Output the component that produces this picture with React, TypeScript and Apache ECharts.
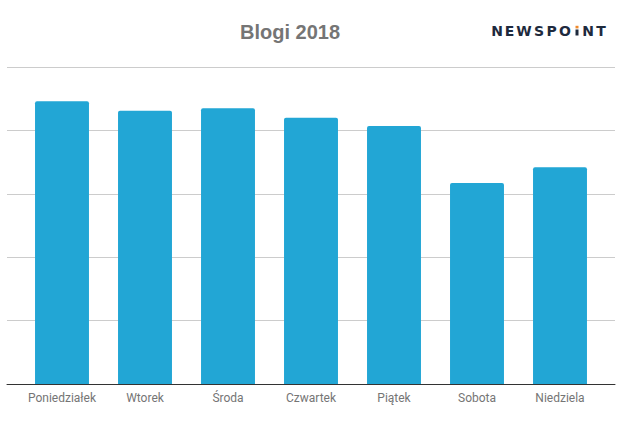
import React, { useEffect, useRef } from "react";
import * as echarts from "echarts";

const categories = ["Poniedziałek", "Wtorek", "Środa", "Czwartek", "Piątek", "Sobota", "Niedziela"];
const values = [4.46, 4.31, 4.35, 4.2, 4.07, 3.17, 3.42];
const titleText = "Blogi 2018";
const logoLetters = [
  { ch: "N", x: 497 },
  { ch: "E", x: 509.5 },
  { ch: "W", x: 524 },
  { ch: "S", x: 539 },
  { ch: "P", x: 551.5 },
  { ch: "O", x: 565 },
  { ch: "N", x: 588 },
  { ch: "T", x: 601 },
];

export default function App() {
  const ref = useRef<HTMLDivElement>(null);
  useEffect(() => {
    const chart = echarts.init(ref.current!, null, { renderer: "svg" });
    chart.setOption({
      animation: false,
      backgroundColor: "#ffffff",
      graphic: [
        {
          type: "text",
          x: 290,
          y: 31.5,
          style: {
            text: titleText,
            fontFamily: "Liberation Sans",
            fontWeight: "bold",
            fontSize: 20,
            fill: "#757575",
            align: "center",
            verticalAlign: "middle",
          },
        },
        ...logoLetters.map((l) => ({
          type: "text",
          x: l.x,
          y: 30.7,
          style: {
            text: l.ch,
            fontFamily: "DejaVu Sans",
            fontWeight: "bold",
            fontSize: 14,
            fill: "#1e2a3d",
            align: "center",
            verticalAlign: "middle",
          },
        })),
        { type: "rect", x: 575.5, y: 29.5, shape: { width: 3, height: 6 }, style: { fill: "#1e2a3d" } },
        { type: "rect", x: 575.5, y: 25.8, shape: { width: 3, height: 2.6 }, style: { fill: "#f08a2c" } },
      ],
      grid: [
        { left: 7, right: 10, top: 67, bottom: 43 },
        { left: 20.5, right: 23.5, top: 67, bottom: 43 },
      ],
      xAxis: [
        {
          type: "category",
          gridIndex: 0,
          data: [""],
          axisLine: { lineStyle: { color: "#333333", width: 1 } },
          axisTick: { show: false },
          axisLabel: { show: false },
        },
        {
          type: "category",
          gridIndex: 1,
          data: categories,
          axisLine: { show: false },
          axisTick: { show: false },
          axisLabel: { color: "#757575", fontFamily: "Roboto", fontSize: 12, margin: 8, interval: 0 },
        },
      ],
      yAxis: [
        {
          type: "value",
          gridIndex: 0,
          min: 0,
          max: 5,
          interval: 1,
          axisLabel: { show: false },
          axisLine: { show: false },
          axisTick: { show: false },
          splitLine: { lineStyle: { color: "#cccccc", width: 1 } },
        },
        {
          type: "value",
          gridIndex: 1,
          min: 0,
          max: 5,
          interval: 1,
          axisLabel: { show: false },
          axisLine: { show: false },
          axisTick: { show: false },
          splitLine: { show: false },
        },
      ],
      series: [
        {
          type: "bar",
          xAxisIndex: 1,
          yAxisIndex: 1,
          data: values,
          barCategoryGap: "35%",
          itemStyle: { color: "#22a6d5", borderRadius: [2, 2, 0, 0] },
        },
      ],
    });
    return () => chart.dispose();
  }, []);
  return <div ref={ref} style={{ width: 625, height: 427, position: "absolute", left: 0, top: 0 }} />;
}
